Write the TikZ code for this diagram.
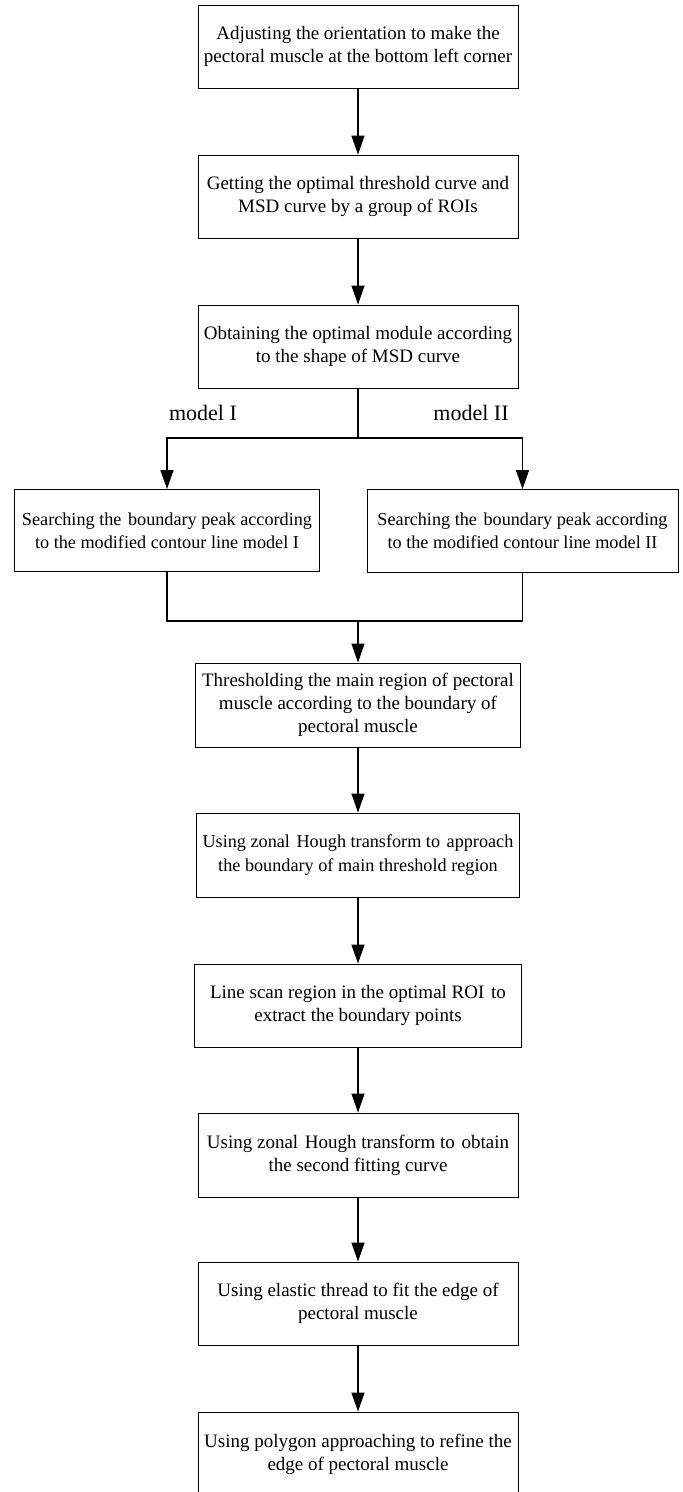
\documentclass[tikz,border=0pt]{standalone}
\usepackage{fontspec}
\setmainfont{Liberation Serif}
\usetikzlibrary{arrows.meta}
\newcommand{\xsp}{\hspace{2pt}}
\begin{document}
\begin{tikzpicture}[x=1pt,y=-1pt,
  box/.style={draw,line width=0.9pt,rectangle,inner sep=0pt,align=center,
    font=\fontsize{19}{23.3}\selectfont},
  smallbox/.style={box,font=\fontsize{18.2}{23.3}\selectfont},
  conn/.style={line width=1.3pt},
  arr/.style={line width=1.3pt,-{Triangle[length=19pt,width=13pt]}},
  lab/.style={font=\fontsize{22}{26}\selectfont,inner sep=0pt}]
\useasboundingbox (0,0) rectangle (683,1492);
\node[box,minimum width=320pt,minimum height=83pt] (b1) at (358,46.5)
  {Adjusting the orientation to make the\\pectoral muscle at the bottom left corner};
\node[box,minimum width=320pt,minimum height=83pt] (b2) at (358,196.5)
  {Getting the optimal threshold curve and\\MSD curve by a group of ROIs};
\node[box,minimum width=320pt,minimum height=83pt] (b3) at (358,346.5)
  {Obtaining the optimal module according\\to the shape of MSD curve};
\node[smallbox,minimum width=305pt,minimum height=82pt] (b4) at (167,530.5)
  {Searching the\xsp{} boundary peak according\\to the modified contour line model I};
\node[smallbox,minimum width=311pt,minimum height=83pt] (b5) at (522.5,531)
  {Searching the\xsp{} boundary peak according\\to the modified contour line model II};
\node[box,minimum width=325pt,minimum height=84pt] (b6) at (358,705)
  {Thresholding the main region of pectoral\\muscle according to the boundary of\\pectoral muscle};
\node[smallbox,minimum width=323pt,minimum height=84pt] (b7) at (358,855)
  {Using zonal\xsp{} Hough transform to\xsp{} approach\\the boundary of main threshold region};
\node[box,minimum width=327pt,minimum height=83pt] (b8) at (358,1005.5)
  {Line scan region in the optimal ROI\xsp{} to\\extract the boundary points};
\node[box,minimum width=320pt,minimum height=84pt] (b9) at (358,1155)
  {Using zonal\xsp{} Hough transform to\xsp{} obtain\\the second fitting curve};
\node[box,minimum width=320pt,minimum height=83pt] (b10) at (358,1303.5)
  {Using elastic thread to fit the edge of\\pectoral muscle};
\node[box,minimum width=320pt,minimum height=84pt] (b11) at (358,1454)
  {Using polygon approaching to refine the\\edge of pectoral muscle};
\node[lab] (l1) at (203,413) {model I};
\node[lab] (l2) at (471,413) {model II};
\coordinate (j1) at (358,438);
\coordinate (j2) at (358,621);
\draw[arr] (b1) -- (b2);
\draw[arr] (b2) -- (b3);
\draw[conn] (b3) -- (j1);
\draw[arr] (j1) -| (b4.north);
\draw[arr] (j1) -| (b5.north);
\draw[conn] (b4.south) |- (j2) -| (b5.south);
\draw[arr] (j2) -- (b6.north);
\draw[arr] (b6) -- (b7);
\draw[arr] (b7) -- (b8);
\draw[arr] (b8) -- (b9);
\draw[arr] (b9) -- (b10);
\draw[arr] (b10) -- (b11);
\end{tikzpicture}
\end{document}
